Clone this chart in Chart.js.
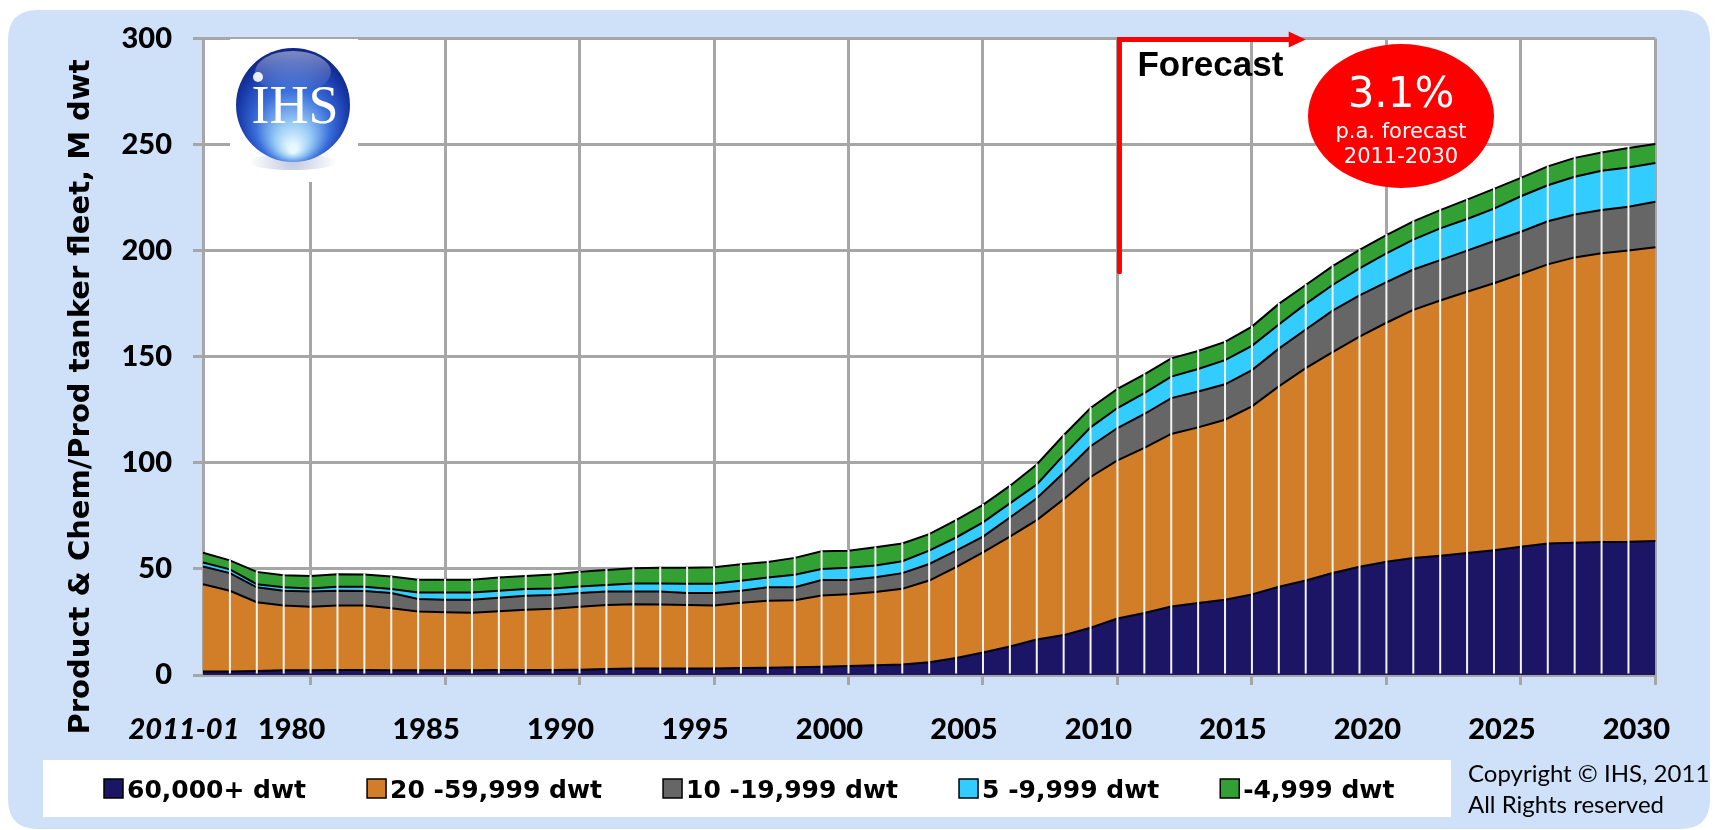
<!DOCTYPE html>
<html>
<head>
<meta charset="utf-8">
<script src="https://cdn.jsdelivr.net/npm/chart.js@4/dist/chart.umd.min.js"></script>
<style>
html, body { margin: 0; padding: 0; background: #fff; }
canvas { display: block; }
</style>
</head>
<body>
<canvas id="fleetChart" width="1716" height="830"></canvas>
<script>
// categories
var years = ['1976','1977','1978','1979','1980','1981','1982','1983','1984','1985',
             '1986','1987','1988','1989','1990','1991','1992','1993','1994','1995',
             '1996','1997','1998','1999','2000','2001','2002','2003','2004','2005',
             '2006','2007','2008','2009','2010','2011','2012','2013','2014','2015',
             '2016','2017','2018','2019','2020','2021','2022','2023','2024','2025',
             '2026','2027','2028','2029','2030'];
var firstTickLabel = '2011-01';

// fleet by size band, M dwt
var dwt60k = [1.6, 1.6, 1.9, 2.2, 2.2, 2.3, 2.3, 2.2, 2.2, 2.2,
              2.2, 2.3, 2.3, 2.3, 2.5, 2.8, 3.1, 3.1, 3.1, 3.1,
              3.3, 3.4, 3.6, 3.9, 4.2, 4.6, 5.0, 6.0, 8.0, 10.6,
              13.4, 16.7, 18.8, 22.3, 26.6, 29.2, 32.3, 33.9, 35.5, 38.0,
              41.6, 44.5, 48.1, 51.0, 53.4, 55.1, 56.2, 57.5, 58.8, 60.4,
              62.0, 62.3, 62.7, 62.8, 63.2];
var dwt20k = [41.2, 38.1, 32.4, 30.5, 30.0, 30.4, 30.4, 29.3, 27.7, 27.4,
              27.1, 27.8, 28.5, 28.9, 29.7, 30.2, 30.2, 30.1, 29.9, 29.6,
              30.7, 31.6, 31.6, 33.6, 33.8, 34.5, 35.6, 38.5, 42.8, 47.2,
              51.8, 56.3, 64.0, 71.0, 74.5, 77.8, 81.3, 82.8, 84.8, 88.6,
              94.4, 100.1, 104.1, 108.5, 112.6, 117.0, 120.3, 123.1, 125.8, 128.6,
              131.5, 134.5, 136.0, 137.2, 138.4];
var dwt10k = [8.3, 8.3, 7.0, 7.0, 7.1, 7.0, 6.9, 7.1, 5.9, 5.9,
              6.2, 6.3, 6.6, 6.5, 6.4, 6.3, 6.0, 6.1, 5.6, 5.9,
              5.7, 6.3, 6.2, 7.3, 6.8, 7.0, 7.4, 7.8, 7.8, 7.4,
              9.0, 10.3, 12.5, 14.5, 15.3, 16.0, 16.9, 16.9, 16.7, 17.1,
              17.8, 18.2, 19.5, 19.4, 19.1, 19.0, 19.0, 19.4, 19.9, 19.9,
              20.3, 20.2, 20.4, 20.7, 21.4];
var dwt5k = [1.9, 1.8, 1.5, 1.6, 1.5, 1.9, 2.0, 1.9, 3.1, 3.4,
             3.4, 3.3, 3.1, 3.1, 3.1, 3.1, 3.8, 3.8, 4.4, 4.4,
             4.7, 4.7, 5.8, 5.2, 5.7, 5.5, 5.6, 6.3, 6.2, 6.7,
             6.7, 6.5, 8.3, 8.9, 9.4, 9.8, 10.1, 10.6, 11.4, 11.4,
             11.4, 12.1, 12.1, 12.7, 13.6, 14.1, 15.0, 14.9, 15.3, 16.7,
             17.0, 17.8, 18.5, 18.5, 18.3];
var dwtSmall = [4.6, 4.2, 5.8, 5.7, 5.9, 5.9, 5.8, 5.9, 6.0, 6.0,
                6.0, 6.3, 6.2, 6.6, 6.9, 7.1, 7.2, 7.4, 7.5, 7.8,
                7.8, 7.3, 8.0, 8.3, 8.1, 8.6, 8.4, 7.8, 8.2, 8.3,
                8.2, 9.4, 9.4, 9.1, 9.0, 8.9, 8.6, 8.5, 8.6, 9.1,
                9.7, 8.9, 8.9, 8.7, 8.6, 8.6, 8.6, 9.1, 9.3, 8.7,
                8.9, 8.9, 8.6, 9.1, 8.9];

var seriesNames = ['60,000+ dwt', '20 -59,999 dwt', '10 -19,999 dwt', '5 -9,999 dwt', '-4,999 dwt'];
var seriesColors = ['#1C1566', '#D27D27', '#666666', '#33CCFF', '#33A034'];
var seriesData = [dwt60k, dwt20k, dwt10k, dwt5k, dwtSmall];

var yTitle = 'Product & Chem/Prod tanker fleet, M dwt';
var forecastFrom = '2010';
var forecastTo = '2017';
var growthText = ['3.1%', 'p.a. forecast', '2011-2030'];
var copyrightText = ['Copyright \u00A9 IHS, 2011', 'All Rights reserved'];

var gridGray = '#A6A6A6';
var panelBlue = 'rgb(206,225,249)';
var tickFont = { family: 'Lato', weight: 900, size: 29 };

function roundRect(ctx, x, y, w, h, r) {
	ctx.beginPath();
	ctx.moveTo(x + r, y);
	ctx.lineTo(x + w - r, y);
	ctx.quadraticCurveTo(x + w, y, x + w, y + r);
	ctx.lineTo(x + w, y + h - r);
	ctx.quadraticCurveTo(x + w, y + h, x + w - r, y + h);
	ctx.lineTo(x + r, y + h);
	ctx.quadraticCurveTo(x, y + h, x, y + h - r);
	ctx.lineTo(x, y + r);
	ctx.quadraticCurveTo(x, y, x + r, y);
	ctx.closePath();
}

// blue panel and white plot area
var panelPlugin = {
	id: 'panel',
	beforeDraw: function(chart) {
		var ctx = chart.ctx, a = chart.chartArea;
		ctx.save();
		ctx.fillStyle = '#fff';
		ctx.fillRect(0, 0, chart.width, chart.height);
		ctx.fillStyle = panelBlue;
		roundRect(ctx, 8, 10, 1702, 819, 30);
		ctx.fill();
		ctx.fillStyle = '#fff';
		ctx.fillRect(a.left, a.top, a.right - a.left, a.bottom - a.top);
		ctx.restore();
	}
};

// thin white lines at every year over the areas
var dropLines = {
	id: 'dropLines',
	afterDatasetsDraw: function(chart) {
		var ctx = chart.ctx, xs = chart.scales.x, ys = chart.scales.y;
		ctx.save();
		ctx.strokeStyle = '#F4F4F4';
		ctx.lineWidth = 2;
		for (var i = 1; i < years.length - 1; i++) {
			var total = 0;
			chart.data.datasets.forEach(function(ds) { total += ds.data[i]; });
			var px = xs.getPixelForValue(i);
			ctx.beginPath();
			ctx.moveTo(px, ys.getPixelForValue(total) - 1);
			ctx.lineTo(px, ys.bottom - 1.5);
			ctx.stroke();
		}
		ctx.restore();
	}
};

function drawLogo(ctx) {
	var cx = 293, cy = 105, r = 57;
	ctx.save();
	ctx.fillStyle = '#fff';
	ctx.fillRect(230, 39, 128, 143);
	// shadow
	var sh = ctx.createRadialGradient(cx, cy + 57, 2, cx, cy + 57, 44);
	sh.addColorStop(0, 'rgba(90,110,170,0.35)');
	sh.addColorStop(1, 'rgba(90,110,170,0)');
	ctx.fillStyle = sh;
	ctx.beginPath();
	ctx.ellipse(cx, cy + 57, 44, 8, 0, 0, Math.PI * 2);
	ctx.fill();
	// sphere
	var g = ctx.createRadialGradient(cx, cy + 44, 4, cx, cy + 5, 64);
	g.addColorStop(0, '#E8F8FF');
	g.addColorStop(0.22, '#9ACDF6');
	g.addColorStop(0.55, '#3A6FDC');
	g.addColorStop(0.85, '#1838A8');
	g.addColorStop(1, '#0D2280');
	ctx.fillStyle = g;
	ctx.beginPath();
	ctx.arc(cx, cy, r, 0, Math.PI * 2);
	ctx.fill();
	// gloss
	var gl = ctx.createLinearGradient(0, cy - 54, 0, cy - 14);
	gl.addColorStop(0, 'rgba(255,255,255,0.45)');
	gl.addColorStop(1, 'rgba(255,255,255,0)');
	ctx.fillStyle = gl;
	ctx.beginPath();
	ctx.ellipse(cx, cy - 33, 38, 21, 0, 0, Math.PI * 2);
	ctx.fill();
	ctx.fillStyle = 'rgba(255,255,255,0.9)';
	ctx.beginPath();
	ctx.arc(cx - 35, cy - 28, 5, 0, Math.PI * 2);
	ctx.fill();
	ctx.fillStyle = '#fff';
	ctx.font = '54px "Liberation Serif"';
	ctx.textAlign = 'center';
	ctx.textBaseline = 'alphabetic';
	ctx.fillText('IHS', cx + 2, cy + 18);
	ctx.restore();
}

var annotations = {
	id: 'annotations',
	afterDraw: function(chart) {
		var ctx = chart.ctx, xs = chart.scales.x, ys = chart.scales.y;
		ctx.save();

		// y axis title
		ctx.save();
		ctx.translate(89, 397);
		ctx.rotate(-Math.PI / 2);
		ctx.fillStyle = '#000';
		ctx.font = 'bold 29px "DejaVu Sans"';
		ctx.textAlign = 'center';
		ctx.textBaseline = 'alphabetic';
		ctx.fillText(yTitle, 0, 0);
		ctx.restore();

		drawLogo(ctx);

		// forecast arrow
		var fx = xs.getPixelForValue(years.indexOf(forecastFrom)) + 2;
		var tx = xs.getPixelForValue(years.indexOf(forecastTo));
		var yBot = ys.getPixelForValue(190), yTop = ys.getPixelForValue(300) + 1;
		ctx.strokeStyle = '#FF0000';
		ctx.fillStyle = '#FF0000';
		ctx.lineWidth = 5;
		ctx.lineCap = 'round';
		ctx.beginPath();
		ctx.moveTo(fx, yBot);
		ctx.lineTo(fx, yTop);
		ctx.lineTo(tx - 14, yTop);
		ctx.stroke();
		ctx.beginPath();
		ctx.moveTo(tx, yTop);
		ctx.lineTo(tx - 17, yTop - 8);
		ctx.lineTo(tx - 17, yTop + 8);
		ctx.closePath();
		ctx.fill();

		ctx.fillStyle = '#000';
		ctx.font = 'bold 35px "Liberation Sans"';
		ctx.textAlign = 'left';
		ctx.textBaseline = 'alphabetic';
		ctx.fillText('Forecast', fx + 18, 76);

		// growth bubble
		ctx.fillStyle = '#FF0000';
		ctx.beginPath();
		ctx.ellipse(1401, 116, 93, 72, 0, 0, Math.PI * 2);
		ctx.fill();
		ctx.fillStyle = '#fff';
		ctx.textAlign = 'center';
		ctx.font = '42px "DejaVu Sans"';
		ctx.fillText(growthText[0], 1401, 107);
		ctx.font = '21px "DejaVu Sans"';
		ctx.fillText(growthText[1], 1401, 138);
		ctx.fillText(growthText[2], 1401, 163);

		// legend
		ctx.fillStyle = '#fff';
		ctx.fillRect(43, 760, 1408, 57);
		var lx = 104;
		ctx.font = 'bold 25px "DejaVu Sans"';
		ctx.textAlign = 'left';
		chart.data.datasets.forEach(function(ds) {
			ctx.fillStyle = ds.backgroundColor;
			ctx.fillRect(lx, 779, 19, 19);
			ctx.strokeStyle = '#000';
			ctx.lineWidth = 1.5;
			ctx.strokeRect(lx, 779, 19, 19);
			ctx.fillStyle = '#000';
			ctx.fillText(ds.label, lx + 23, 798);
			lx += 23 + ctx.measureText(ds.label).width + 61;
		});

		// copyright
		ctx.font = '24px Lato';
		ctx.fillText(copyrightText[0], 1468, 782);
		ctx.fillText(copyrightText[1], 1468, 813);

		ctx.restore();
	}
};

var datasets = seriesData.map(function(vals, k) {
	return {
		label: seriesNames[k],
		data: vals,
		backgroundColor: seriesColors[k],
		borderColor: '#000',
		borderWidth: 2,
		pointRadius: 0,
		tension: 0,
		fill: k === 0 ? 'origin' : '-1'
	};
});

new Chart(document.getElementById('fleetChart'), {
	type: 'line',
	data: { labels: years, datasets: datasets },
	plugins: [panelPlugin, dropLines, annotations],
	options: {
		responsive: false,
		animation: false,
		layout: { padding: { left: 0, top: 35, right: 56, bottom: 75 } },
		plugins: { legend: { display: false }, tooltip: { enabled: false } },
		scales: {
			x: {
				offset: false,
				afterFit: function(s) { s.height = 80; },
				grid: {
					color: function(c) {
						var i = c.index;
						return (i > 0 && Number(years[i]) % 5 === 0) ? gridGray : 'rgba(0,0,0,0)';
					},
					lineWidth: 3,
					tickLength: 10
				},
				border: { color: gridGray, width: 3 },
				ticks: {
					autoSkip: false,
					maxRotation: 0,
					padding: 27,
					labelOffset: -19,
					color: '#000',
					font: function(c) {
						return c.index === 0
							? { family: 'Lato', weight: 900, size: 29, style: 'italic' }
							: tickFont;
					},
					callback: function(v, i) {
						if (i === 0) return firstTickLabel;
						return Number(years[i]) % 5 === 0 ? years[i] : '';
					}
				}
			},
			y: {
				stacked: true,
				min: 0,
				max: 300,
				afterFit: function(s) { s.width = 203; },
				grid: { color: gridGray, lineWidth: 3, tickLength: 10 },
				border: { color: gridGray, width: 3 },
				ticks: {
					stepSize: 50,
					padding: 21,
					color: '#000',
					font: tickFont
				}
			}
		}
	}
});
</script>
</body>
</html>
